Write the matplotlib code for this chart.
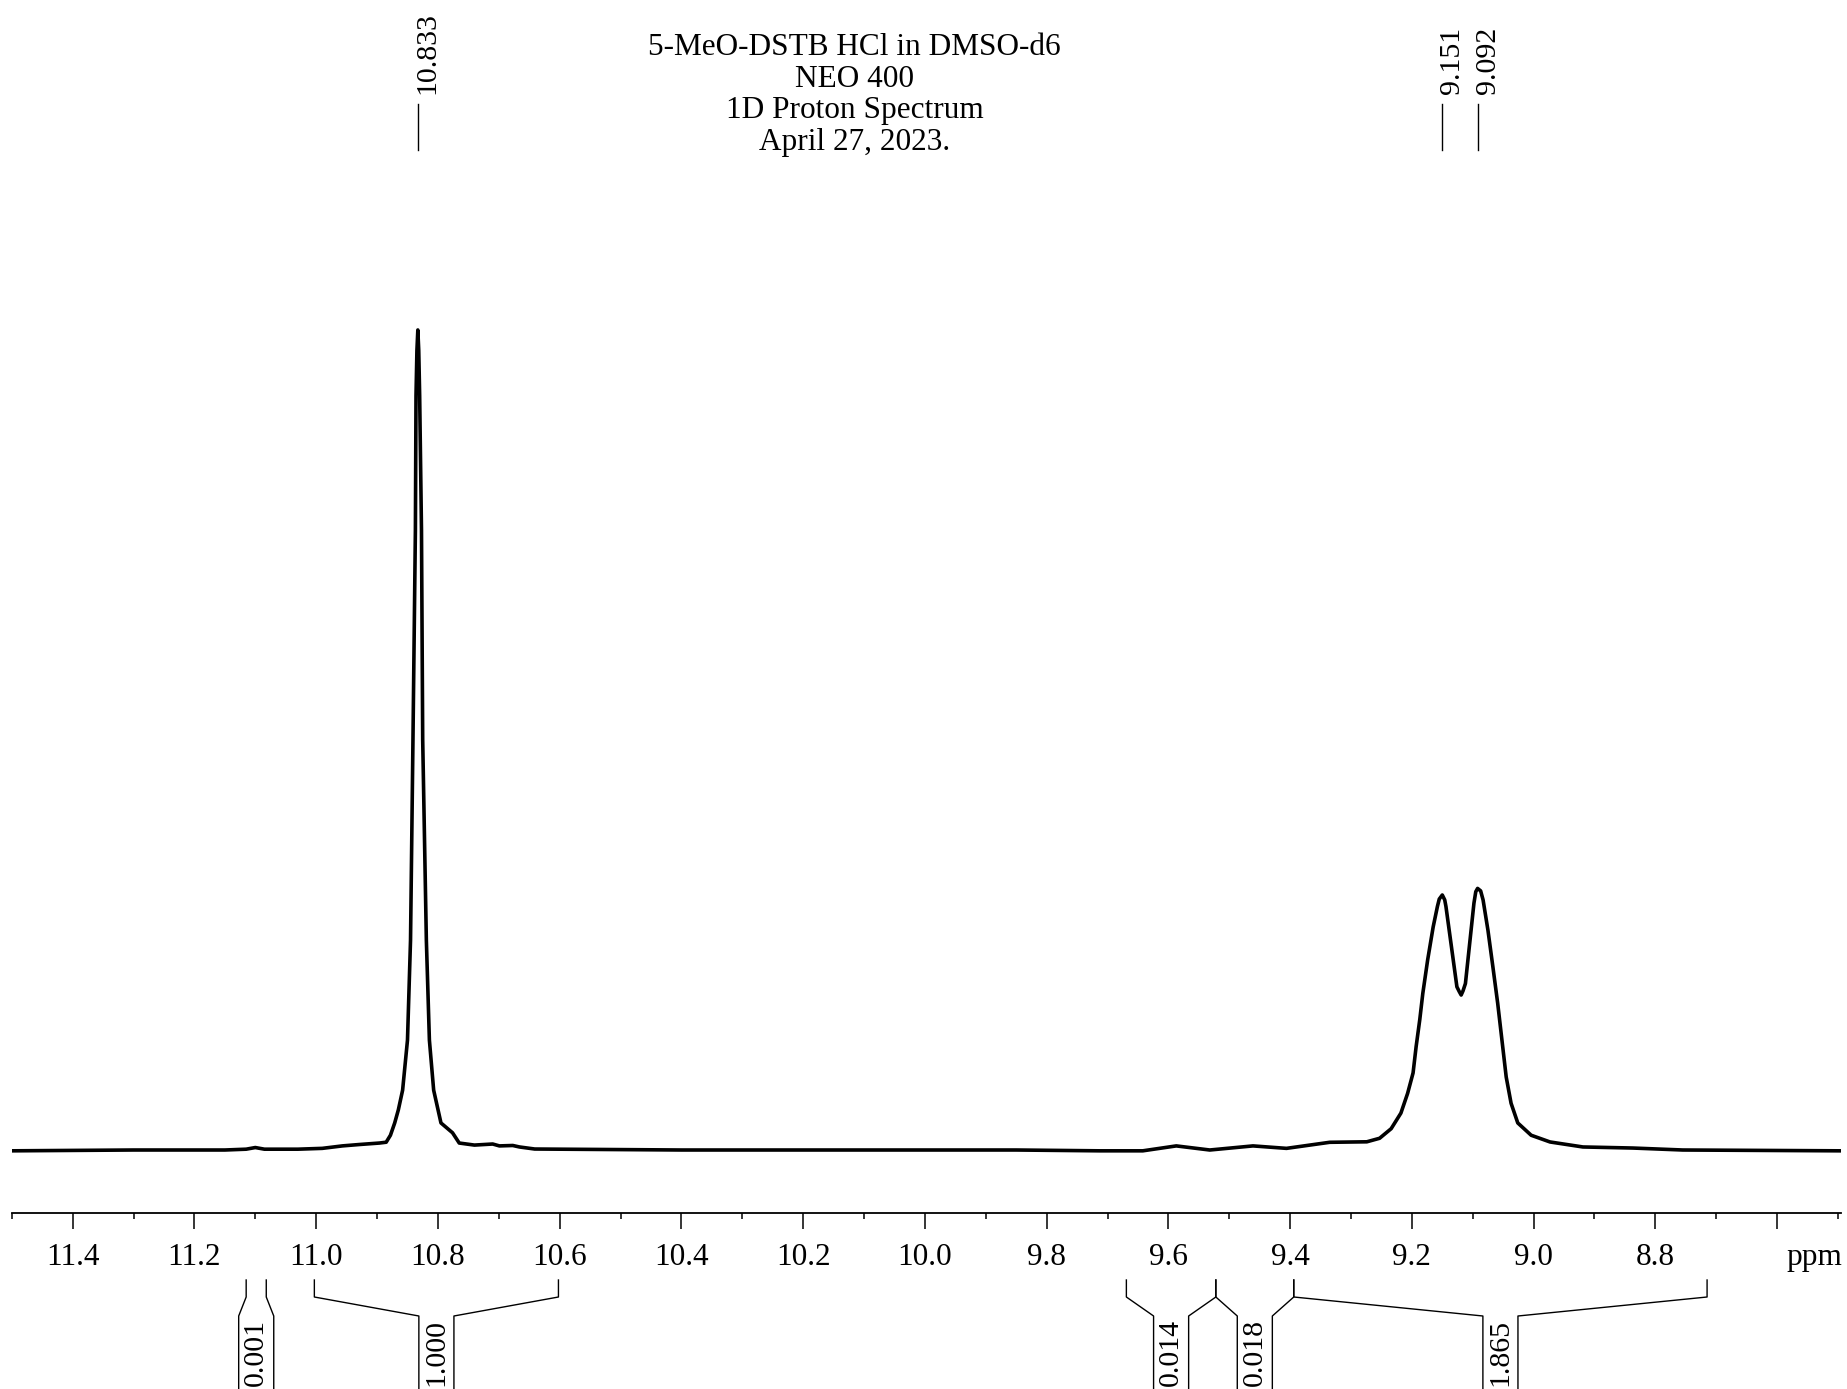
import matplotlib.pyplot as plt
import matplotlib.transforms as mtransforms
from matplotlib.ticker import MultipleLocator, FuncFormatter

plt.rcParams['font.family'] = ['Liberation Serif', 'DejaVu Serif']

# spectrum (ppm, intensity relative to the 10.833 peak)
ppm = [11.500, 11.300, 11.150, 11.115, 11.100, 11.085, 11.030, 10.990, 10.957,
       10.929, 10.896, 10.885, 10.878, 10.871, 10.865, 10.858, 10.850, 10.845,
       10.841, 10.837, 10.836, 10.8345, 10.833, 10.8315, 10.830, 10.827, 10.825,
       10.819, 10.814, 10.807, 10.795, 10.776, 10.765, 10.740, 10.710, 10.699,
       10.677, 10.666, 10.641, 10.400, 10.100, 9.850, 9.713, 9.642, 9.587, 9.532,
       9.461, 9.406, 9.335, 9.274, 9.253, 9.234, 9.218, 9.207, 9.198, 9.193,
       9.187, 9.182, 9.174, 9.165, 9.158, 9.155, 9.150, 9.146, 9.144, 9.135,
       9.126, 9.122, 9.119, 9.116, 9.112, 9.105, 9.098, 9.095, 9.092, 9.087,
       9.083, 9.075, 9.067, 9.059, 9.052, 9.045, 9.037, 9.026, 9.004, 8.973,
       8.919, 8.837, 8.755, 8.497]
intensity = [-0.001, 0.000, 0.000, 0.001, 0.003, 0.001, 0.001, 0.002, 0.005,
             0.0067, 0.0085, 0.0095, 0.018, 0.033, 0.049, 0.073, 0.134, 0.256,
             0.500, 0.756, 0.920, 0.975, 1.000, 0.975, 0.920, 0.756, 0.500,
             0.256, 0.134, 0.073, 0.033, 0.021, 0.0085, 0.006, 0.0073, 0.005,
             0.0055, 0.0037, 0.0012, 0.000, 0.000, 0.000, -0.001, -0.001, 0.005, 0.000,
             0.005, 0.002, 0.0094, 0.010, 0.0143, 0.026, 0.045, 0.069, 0.094, 0.126,
             0.159, 0.191, 0.232, 0.272, 0.297, 0.306, 0.311, 0.305, 0.297, 0.248,
             0.199, 0.193, 0.189, 0.194, 0.203, 0.252, 0.301, 0.315, 0.319, 0.316,
             0.305, 0.268, 0.224, 0.179, 0.134, 0.089, 0.057, 0.033, 0.018, 0.0098,
             0.0037, 0.0024, 0.000, -0.001]

# peak picking
peak_ppm = [10.833, 9.151, 9.092]
peak_labels = ['10.833', '9.151', '9.092']

# integrals
int_from = [11.115, 11.003, 9.669, 9.522, 9.394]
int_to = [11.082, 10.602, 9.522, 9.394, 8.715]
int_values = ['0.001', '1.000', '0.014', '0.018', '1.865']

title_lines = ['5-MeO-DSTB HCl in DMSO-d6', 'NEO 400', '1D Proton Spectrum', 'April 27, 2023.']

H = 1389.0  # figure height in px, used to place things from the top

fig = plt.figure(figsize=(18.47, 13.89), dpi=100)
ax = fig.add_axes([0.0064, 0.1269, 0.99035, 0.8731])
ax.plot(ppm, intensity, color='black', lw=2.6, solid_joinstyle='round')
ax.set_xlim(11.5, 8.495)
ax.set_ylim(-0.0765, 1.4024)

for s in ['top', 'left', 'right']:
    ax.spines[s].set_visible(False)
ax.spines['bottom'].set_linewidth(1.3)
ax.set_yticks([])
ax.xaxis.set_major_locator(MultipleLocator(0.2))
ax.xaxis.set_minor_locator(MultipleLocator(0.1))
ax.xaxis.set_major_formatter(FuncFormatter(lambda v, p: '' if abs(v - 8.6) < 0.01 else f'{v:.1f}'))
ax.tick_params(axis='x', which='major', length=11.3, width=1.1, pad=10.5, labelsize=22.5)
ax.tick_params(axis='x', which='minor', length=4.1, width=1.1)
ax.text(8.539, -0.025, 'ppm', transform=ax.get_xaxis_transform(),
        ha='center', va='top', fontsize=22.5)

# title
for i, line in enumerate(title_lines):
    fig.text(0.4627, 1 - (55 + 31.7 * i) / H, line, ha='center', va='baseline', fontsize=22.5)

trans = mtransforms.blended_transform_factory(ax.transData, fig.transFigure)
text_shift = mtransforms.offset_copy(trans, fig=fig, x=10, y=0, units='dots')

# peak labels
for p, lab in zip(peak_ppm, peak_labels):
    ax.plot([p, p], [1 - 150 / H, 1 - 104 / H], color='black', lw=1.0,
            transform=trans, clip_on=False)
    ax.text(p, 1 - 94 / H, lab, rotation=90, ha='center', va='bottom',
            fontsize=21.5, transform=text_shift)

# integral brackets
y_top, y_knee, y_box, y_bot = 1 - 1280 / H, 1 - 1297 / H, 1 - 1316 / H, -0.01
hw = 0.0288
for a, b, val in zip(int_from, int_to, int_values):
    c = (a + b) / 2
    ax.plot([a, a, c + hw, c + hw], [y_top, y_knee, y_box, y_bot], color='black',
            lw=1.0, transform=trans, clip_on=False)
    ax.plot([b, b, c - hw, c - hw], [y_top, y_knee, y_box, y_bot], color='black',
            lw=1.0, transform=trans, clip_on=False)
    ax.text(c, 1 - 1319 / H, val, rotation=90, ha='center', va='top',
            fontsize=21.5, transform=trans)

fig.savefig('out.png', dpi=100)
